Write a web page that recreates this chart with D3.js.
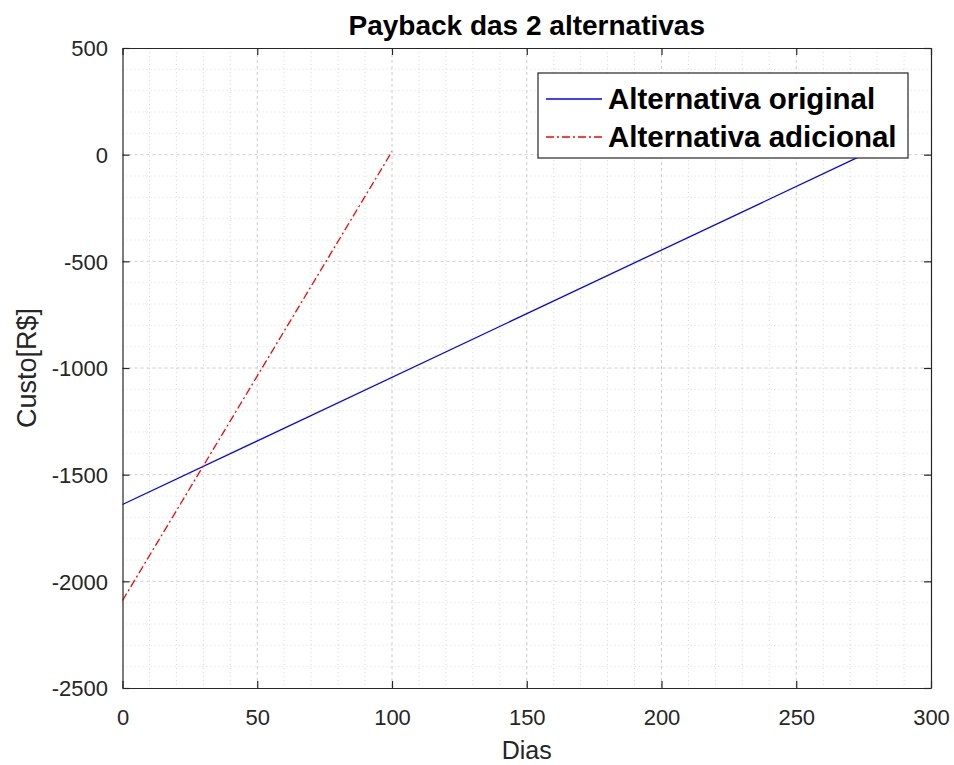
<!DOCTYPE html>
<html>
<head>
<meta charset="utf-8">
<script src="https://cdn.jsdelivr.net/npm/d3@7"></script>
<style>
  body { margin: 0; background: #fff; }
  text { font-family: "Liberation Sans", Arial, sans-serif; }
</style>
</head>
<body>
<script>
// data
var dias_original = [0, 275];
var custo_original = [-1640, 0];
var dias_adicional = [0, 100];
var custo_adicional = [-2090, 15];
var x_ticks = [0, 50, 100, 150, 200, 250, 300];
var y_ticks = [500, 0, -500, -1000, -1500, -2000, -2500];
var series_names = ["Alternativa original", "Alternativa adicional"];

var width = 954, height = 765;
// plot box edges (note: "top" is reserved on window, so use plot_ names)
var plot_left = 122.5, plot_right = 931, plot_top = 48, plot_bottom = 688;
var axis_color = "#262626";

var svg = d3.select("body").append("svg")
  .attr("width", width).attr("height", height);

var x = d3.scaleLinear().domain([0, 300]).range([plot_left, plot_right]);
var y = d3.scaleLinear().domain([-2500, 500]).range([plot_bottom, plot_top]);

svg.append("rect").attr("x", plot_left).attr("y", plot_top)
  .attr("width", plot_right - plot_left).attr("height", plot_bottom - plot_top)
  .attr("fill", "#fff");

// minor grid
var grid = svg.append("g");
grid.selectAll(".vminor").data(d3.range(10, 300, 10).filter(d => d % 50 != 0))
  .enter().append("line")
  .attr("x1", d => x(d)).attr("x2", d => x(d))
  .attr("y1", plot_top).attr("y2", plot_bottom)
  .attr("stroke", "#d8d8d8").attr("stroke-dasharray", "1,3");
grid.selectAll(".hminor").data(d3.range(-2400, 500, 100).filter(d => d % 500 != 0))
  .enter().append("line")
  .attr("y1", d => y(d)).attr("y2", d => y(d))
  .attr("x1", plot_left).attr("x2", plot_right)
  .attr("stroke", "#d8d8d8").attr("stroke-dasharray", "1,3");
// major grid
grid.selectAll(".vmajor").data(x_ticks.slice(1, -1))
  .enter().append("line")
  .attr("x1", d => x(d)).attr("x2", d => x(d))
  .attr("y1", plot_top).attr("y2", plot_bottom)
  .attr("stroke", "#cccccc").attr("stroke-dasharray", "3,3");
grid.selectAll(".hmajor").data(y_ticks.slice(1, -1))
  .enter().append("line")
  .attr("y1", d => y(d)).attr("y2", d => y(d))
  .attr("x1", plot_left).attr("x2", plot_right)
  .attr("stroke", "#cccccc").attr("stroke-dasharray", "3,3");

// lines
var line = d3.line().x(d => x(d[0])).y(d => y(d[1]));
svg.append("path")
  .datum(d3.zip(dias_original, custo_original))
  .attr("d", line).attr("fill", "none")
  .attr("stroke", "#0000ff").attr("stroke-width", 1.3);
svg.append("path")
  .datum(d3.zip(dias_adicional, custo_adicional))
  .attr("d", line).attr("fill", "none")
  .attr("stroke", "#ff0000").attr("stroke-width", 1.3)
  .attr("stroke-dasharray", "8,3,2,3");

// axes, ticks pointing inside on all four sides (matlab "box on")
var fmt = d => String(d);
var ax_b = svg.append("g").attr("transform", "translate(0," + plot_bottom + ")")
  .call(d3.axisBottom(x).tickValues(x_ticks).tickFormat(fmt).tickSizeInner(-7).tickSizeOuter(0));
var ax_t = svg.append("g").attr("transform", "translate(0," + plot_top + ")")
  .call(d3.axisTop(x).tickValues(x_ticks).tickSizeInner(-7).tickSizeOuter(0).tickFormat(""));
var ax_l = svg.append("g").attr("transform", "translate(" + plot_left + ",0)")
  .call(d3.axisLeft(y).tickValues(y_ticks).tickFormat(fmt).tickSizeInner(-7).tickSizeOuter(0));
var ax_r = svg.append("g").attr("transform", "translate(" + plot_right + ",0)")
  .call(d3.axisRight(y).tickValues(y_ticks).tickSizeInner(-7).tickSizeOuter(0).tickFormat(""));

[ax_b, ax_t, ax_l, ax_r].forEach(function(a) {
  a.select(".domain").attr("stroke", axis_color).attr("stroke-width", 1.2);
  a.selectAll(".tick line").attr("stroke", axis_color).attr("stroke-width", 1.2);
  a.selectAll(".tick text").attr("fill", axis_color).style("font-size", "22px")
    .style("font-family", "Liberation Sans, Arial, sans-serif");
});
ax_b.selectAll(".tick text").attr("y", 0).attr("dy", 37);
ax_l.selectAll(".tick text").attr("x", -14.5).attr("dy", "0.36em");

// title and axis labels
svg.append("text").text("Payback das 2 alternativas")
  .attr("x", (plot_left + plot_right) / 2).attr("y", 35).attr("text-anchor", "middle")
  .style("font-size", "28px").style("font-weight", "bold").attr("fill", "#000");
svg.append("text").text("Dias")
  .attr("x", (plot_left + plot_right) / 2).attr("y", 759).attr("text-anchor", "middle")
  .style("font-size", "25px").attr("fill", axis_color);
svg.append("text").text("Custo[R$]")
  .attr("transform", "translate(36," + ((plot_top + plot_bottom) / 2) + ") rotate(-90)")
  .attr("text-anchor", "middle")
  .style("font-size", "27px").attr("fill", axis_color);

// legend
var leg = svg.append("g");
leg.append("rect").attr("x", 538).attr("y", 73).attr("width", 370).attr("height", 85)
  .attr("fill", "#fff").attr("stroke", axis_color).attr("stroke-width", 1.2);
var leg_styles = [{c: "#0000ff", dash: null}, {c: "#ff0000", dash: "8,3,2,3"}];
series_names.forEach(function(name, i) {
  var ly = 99 + i * 38;
  leg.append("line").attr("x1", 546).attr("x2", 602).attr("y1", ly).attr("y2", ly)
    .attr("stroke", leg_styles[i].c).attr("stroke-width", 1.3)
    .attr("stroke-dasharray", leg_styles[i].dash);
  leg.append("text").text(name).attr("x", 608).attr("y", ly + 10)
    .style("font-size", "29.5px").style("font-weight", "bold").attr("fill", "#000");
});
</script>
</body>
</html>
